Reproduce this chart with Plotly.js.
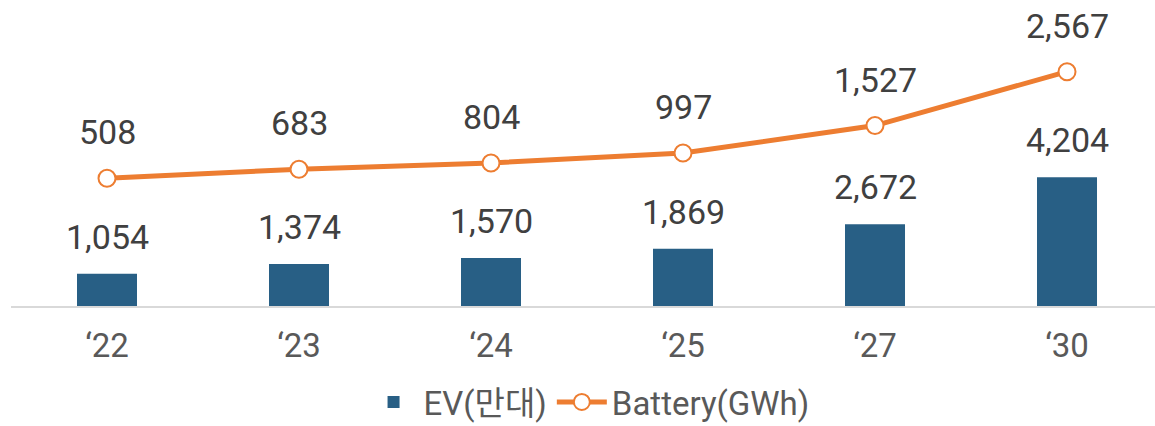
<!DOCTYPE html>
<html><head><meta charset="utf-8">
<script src="https://cdn.plot.ly/plotly-3.0.1.min.js"></script>
<style>html,body{margin:0;padding:0;background:#fff;}#chart{width:1155px;height:426px;}</style>
</head><body><div id="chart"></div>
<script>
const categories = ["‘22", "‘23", "‘24", "‘25", "‘27", "‘30"];
const evValues = [1054, 1374, 1570, 1869, 2672, 4204];
const batteryValues = [508, 683, 804, 997, 1527, 2567];
const seriesNames = ["EV(만대)", "Battery(GWh)"];

const fmt = v => v.toLocaleString("en-US");
const FONT = "Roboto, 'Noto Sans CJK KR', sans-serif";

const traces = [
  {type: "bar", name: seriesNames[0], x: categories, y: evValues, width: 0.3125,
   marker: {color: "#285F85"}, hoverinfo: "skip"},
  {type: "scatter", mode: "lines+markers", name: seriesNames[1], x: categories, y: batteryValues,
   yaxis: "y2", line: {color: "#ED7D31", width: 5},
   marker: {symbol: "circle", size: 17, color: "#ffffff", line: {color: "#ED7D31", width: 2}},
   hoverinfo: "skip"}
];

const annotations = [];
categories.forEach((c, i) => {
  annotations.push({x: c, y: evValues[i], xref: "x", yref: "y", text: fmt(evValues[i]),
    showarrow: false, yanchor: "middle", yshift: 37,
    font: {family: FONT, size: 34, color: "#404040"}});
  annotations.push({x: c, y: batteryValues[i], xref: "x", yref: "y2", text: fmt(batteryValues[i]),
    showarrow: false, yanchor: "middle", yshift: 46,
    font: {family: FONT, size: 34, color: "#404040"}});
});

const layout = {
  width: 1155, height: 426,
  margin: {l: 11, r: 0, t: 10, b: 120, autoexpand: false},
  paper_bgcolor: "#ffffff", plot_bgcolor: "#ffffff",
  showlegend: true,
  legend: {orientation: "h", xref: "container", x: 0.51, xanchor: "center",
    yref: "container", y: 0.122, yanchor: "top",
    font: {family: FONT, size: 33, color: "#595959"}, itemwidth: 50, traceorder: "normal"},
  xaxis: {type: "category", range: [-0.5, 5.4583], showgrid: false, zeroline: false,
    showline: true, linecolor: "#d9d9d9", linewidth: 2, ticks: "", ticklabelstandoff: 9,
    automargin: false,
    tickfont: {family: FONT, size: 33, color: "#595959"}, fixedrange: true},
  yaxis: {range: [0, 9673], visible: false, fixedrange: true},
  yaxis2: {range: [-1959, 3759], overlaying: "y", side: "right", visible: false, fixedrange: true},
  annotations: annotations
};

Plotly.newPlot("chart", traces, layout, {displayModeBar: false, staticPlot: true});
</script></body></html>
